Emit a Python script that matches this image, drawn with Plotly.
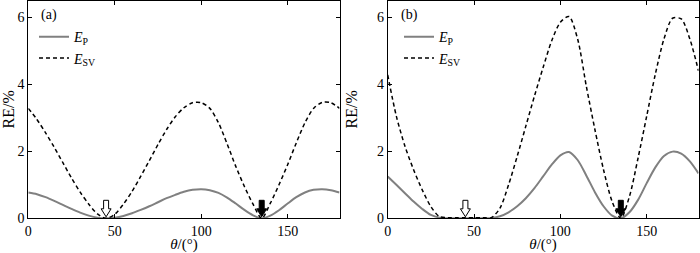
import plotly.graph_objects as go

# ---------------- data ----------------
theta = [0, 5, 10, 15, 20, 25, 30, 35, 40, 45, 50, 55, 60, 65, 70, 75, 80, 85, 90,
         95, 100, 105, 110, 115, 120, 125, 130, 135, 140, 145, 150, 155, 160, 165,
         170, 175, 180]

# panel (a)
a_ep = [0.77, 0.72, 0.63, 0.52, 0.40, 0.28, 0.17, 0.08, 0.02, 0.00, 0.02, 0.07, 0.15,
        0.25, 0.36, 0.48, 0.60, 0.70, 0.79, 0.85, 0.87, 0.84, 0.76, 0.62, 0.44, 0.25,
        0.09, 0.00, 0.08, 0.24, 0.44, 0.63, 0.77, 0.85, 0.87, 0.84, 0.77]
a_esv = [3.28, 2.95, 2.55, 2.12, 1.66, 1.20, 0.78, 0.42, 0.13, 0.00, 0.12, 0.42, 0.80,
         1.25, 1.72, 2.20, 2.65, 3.03, 3.30, 3.45, 3.45, 3.28, 2.85, 2.22, 1.55, 0.95,
         0.42, 0.00, 0.45, 1.00, 1.60, 2.25, 2.85, 3.28, 3.46, 3.45, 3.28]

# panel (b)
b_ep = [1.25, 1.00, 0.75, 0.50, 0.28, 0.10, 0.02, 0.00, 0.00, 0.00, 0.00, 0.00, 0.01,
        0.06, 0.18, 0.36, 0.60, 0.90, 1.25, 1.60, 1.88, 1.98, 1.74, 1.28, 0.78, 0.36,
        0.08, 0.00, 0.18, 0.55, 1.05, 1.52, 1.86, 1.99, 1.93, 1.70, 1.34]
b_esv = [4.28, 3.05, 2.15, 1.45, 0.85, 0.35, 0.05, 0.02, 0.02, 0.02, 0.02, 0.02, 0.02,
         0.30, 1.00, 1.85, 2.75, 3.65, 4.50, 5.30, 5.85, 6.02, 5.35, 3.95, 2.65, 1.45,
         0.50, 0.00, 0.65, 1.80, 3.05, 4.30, 5.35, 5.97, 5.95, 5.35, 4.40]

arrow_theta = [45, 135]          # arrow markers (open, filled)
x_ticks = [0, 50, 100, 150]
y_ticks = [0, 2, 4, 6]
panel_labels = ["(a)", "(b)"]

FONT = "Liberation Serif"
GRAY = "#808080"
FS = 14

fig = go.Figure()

panels = [(a_ep, a_esv, "x", "y", "legend"), (b_ep, b_esv, "x2", "y2", "legend2")]
for ep, esv, xa, ya, lg in panels:
    fig.add_trace(go.Scatter(x=theta, y=ep, xaxis=xa, yaxis=ya, mode="lines",
                             line=dict(color=GRAY, width=2, shape="spline", smoothing=0.8),
                             name="<i>E</i><sub>P</sub>", legend=lg))
    fig.add_trace(go.Scatter(x=theta, y=esv, xaxis=xa, yaxis=ya, mode="lines",
                             line=dict(color="black", width=1.5, dash="4px,3px",
                                       shape="spline", smoothing=0.8),
                             name="<i>E</i><sub>SV</sub>", legend=lg))

# block arrows (pixel-sized shapes anchored at data positions)
arrow_path = "M0,1.5 L-5,9.5 L-2.5,9.5 L-2.5,18 L2.5,18 L2.5,9.5 L5,9.5 Z"
fills = ["white", "black"]
for xa, ya in [("x", "y"), ("x2", "y2")]:
    for t, fc in zip(arrow_theta, fills):
        fig.add_shape(type="path", xref=xa, yref=ya, xsizemode="pixel",
                      ysizemode="pixel", xanchor=t, yanchor=0, path=arrow_path,
                      fillcolor=fc, line=dict(color="black", width=1), layer="above")

ydom = [(253 - 218.3) / 253, (253 - 0.5) / 253]
xdom1 = [28.3 / 700, 339.5 / 700]
xdom2 = [387.7 / 700, 698.5 / 700]

axis_common = dict(showline=True, linecolor="black", linewidth=1, mirror="ticks",
                   ticks="inside", ticklen=4, tickcolor="black", showgrid=False,
                   zeroline=False, automargin=False,
                   tickfont=dict(family=FONT, size=FS, color="black"))

xtitle = dict(text="<i>θ</i>/(°)", font=dict(family=FONT, size=15, color="black"),
              standoff=5)
ytitle = dict(text="RE/%", font=dict(family=FONT, size=16, color="black"))

fig.update_layout(
    width=700, height=253, margin=dict(l=0, r=0, t=0, b=0, pad=0, autoexpand=False),
    paper_bgcolor="white", plot_bgcolor="white",
    font=dict(family=FONT, size=FS, color="black"),
    xaxis=dict(domain=xdom1, anchor="y", range=[0, 180], tickvals=x_ticks,
               title=xtitle, **axis_common),
    yaxis=dict(domain=ydom, anchor="x", range=[0, 6.5], tickvals=y_ticks,
               title=ytitle, **axis_common),
    xaxis2=dict(domain=xdom2, anchor="y2", range=[0, 180], tickvals=x_ticks,
                title=xtitle, **axis_common),
    yaxis2=dict(domain=ydom, anchor="x2", range=[0, 6.5], tickvals=y_ticks,
                title=ytitle, **axis_common),
    legend=dict(x=34 / 700, y=0.916, xanchor="left", yanchor="top",
                bgcolor="rgba(0,0,0,0)", font=dict(family=FONT, size=FS),
                itemwidth=30, tracegroupgap=0),
    legend2=dict(x=399 / 700, y=0.916, xanchor="left", yanchor="top",
                 bgcolor="rgba(0,0,0,0)", font=dict(family=FONT, size=FS),
                 itemwidth=30, tracegroupgap=0),
)

for lab, xa, ya in zip(panel_labels, ["x", "x2"], ["y", "y2"]):
    fig.add_annotation(text=lab, xref=f"{xa} domain", yref=f"{ya} domain",
                       x=0.035, y=0.935, xanchor="left", yanchor="middle",
                       showarrow=False, font=dict(family=FONT, size=FS, color="black"))

fig.write_html("out.html", config={"displayModeBar": False},
               post_script="document.body.style.margin='0';document.body.style.padding='0';")
